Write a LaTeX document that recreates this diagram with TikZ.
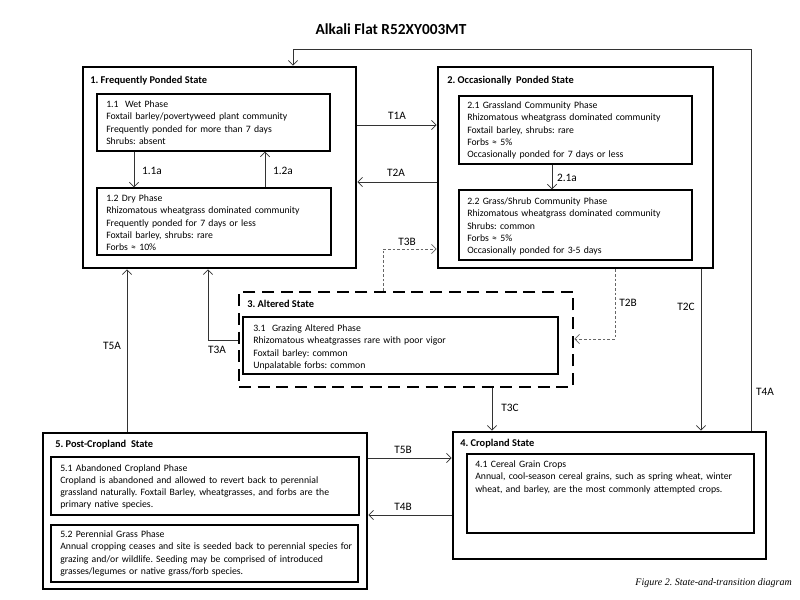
\documentclass[tikz,border=0pt]{standalone}
\usepackage{fontspec}
\setmainfont{Carlito}
\newfontfamily\capfont{Liberation Serif}
\usetikzlibrary{arrows.meta,fit}
\frenchspacing
\begin{document}
\begin{tikzpicture}[x=0.75pt,y=-0.75pt,
  statebox/.style={draw, line width=2pt, inner sep=0pt},
  altbox/.style={draw, line width=2pt, inner sep=0pt, dash pattern=on 9pt off 5pt},
  phasebox/.style={draw, line width=0.9pt, inner sep=0pt},
  phaseboxb/.style={draw, line width=1.6pt, inner sep=0pt},
  stitle/.style={font=\bfseries\fontsize{7.8}{9}\selectfont, anchor=base west, inner sep=0pt},
  ptext/.style={font=\fontsize{7.3}{9.2}\selectfont, anchor=base west, inner sep=0pt, align=left, text width=300pt},
  arr/.style={-{Straight Barb[length=3.5pt,width=7pt]}, line width=0.6pt, draw=black!80},
  darr/.style={arr, draw=black!60, dash pattern=on 2pt off 1.5pt},
  tlab/.style={font=\fontsize{8.5}{10}\selectfont, inner sep=0pt},
]
\useasboundingbox (0,0) rectangle (800,600);

% title
\node[font=\bfseries\fontsize{11.5}{13}\selectfont, inner sep=0pt] (title) at (391,29) {Alkali Flat R52XY003MT};

% state boxes
\node[statebox, fit={(83,67) (356,268)}] (s1) {};
\node[statebox, fit={(438,67) (713,268)}] (s2) {};
\node[altbox, fit={(239,292) (573,387)}] (s3) {};
\node[statebox, fit={(453,432) (766,559)}] (s4) {};
\node[statebox, fit={(43,433) (367,589)}] (s5) {};

\node[stitle] (s1t) at (90,83.5) {1. Frequently Ponded State};
\node[stitle] (s2t) at (447,83.5) {2. Occasionally\ \ Ponded State};
\node[stitle] (s3t) at (247,307.5) {3. Altered State};
\node[stitle] (s4t) at (460,446.5) {4. Cropland State};
\node[stitle] (s5t) at (55,447.5) {5. Post-Cropland\ \ State};

% phase boxes
\node[phasebox, fit={(97,94) (330,151)}] (p11) {};
\node[phasebox, fit={(97,188) (331,255)}] (p12) {};
\node[phasebox, fit={(459,96) (692,164)}] (p21) {};
\node[phasebox, fit={(459,190) (692,260)}] (p22) {};
\node[phasebox, fit={(243,317) (558,374)}] (p31) {};
\node[phaseboxb, fit={(467,454) (754,533)}] (p41) {};
\node[phaseboxb, fit={(51,457) (359,515)}] (p51) {};
\node[phaseboxb, fit={(51,525) (358,582)}] (p52) {};

% phase texts
\node[ptext] (p11t) at (106,107.5) {1.1\ \ Wet Phase\\Foxtail barley/povertyweed plant community\\Frequently ponded for more than 7 days\\Shrubs: absent};
\node[ptext] (p12t) at (106,201.5) {1.2 Dry Phase\\Rhizomatous wheatgrass dominated community\\Frequently ponded for 7 days or less\\Foxtail barley, shrubs: rare\\Forbs ≈ 10\%};
\node[ptext] (p21t) at (467,108.5) {2.1 Grassland Community Phase\\Rhizomatous wheatgrass dominated community\\Foxtail barley, shrubs: rare\\Forbs ≈ 5\%\\Occasionally ponded for 7 days or less};
\node[ptext] (p22t) at (467,204.5) {2.2 Grass/Shrub Community Phase\\Rhizomatous wheatgrass dominated community\\Shrubs: common\\Forbs ≈ 5\%\\Occasionally ponded for 3-5 days};
\node[ptext] (p31t) at (253,331.5) {3.1\ \ Grazing Altered Phase\\Rhizomatous wheatgrasses rare with poor vigor\\Foxtail barley: common\\Unpalatable forbs: common};
\node[ptext] (p41t) at (475,467.5) {4.1 Cereal Grain Crops\\Annual, cool-season cereal grains, such as spring wheat, winter\\wheat, and barley, are the most commonly attempted crops.};
\node[ptext] (p51t) at (60,471) {5.1 Abandoned Cropland Phase\\Cropland is abandoned and allowed to revert back to perennial\\grassland naturally. Foxtail Barley, wheatgrasses, and forbs are the\\primary native species.};
\node[ptext] (p52t) at (60,537.5) {5.2 Perennial Grass Phase\\Annual cropping ceases and site is seeded back to perennial species for\\grazing and/or wildlife. Seeding may be comprised of introduced\\grasses/legumes or native grass/forb species.};

% within-state transitions
\draw[arr] (134,0 |- p11.south) -- (134,0 |- p12.north);
\draw[arr] (265,0 |- p12.north) -- (265,0 |- p11.south);
\draw[arr] (552,0 |- p21.south) -- (552,0 |- p22.north);
\node[tlab] (l11a) at (152,171) {1.1a};
\node[tlab] (l12a) at (283,171) {1.2a};
\node[tlab] (l21a) at (567,178) {2.1a};

% state transitions
\draw[arr] (s1.east |- 0,125) -- (s2.west |- 0,125);
\draw[arr] (s2.west |- 0,182) -- (s1.east |- 0,182);
\draw[darr] (383,0 |- s3.north) -- (383,249) -- (s2.west |- 0,249);
\draw[darr] (615,0 |- s2.south) -- (615,339) -- (s3.east |- 0,339);
\draw[arr] (701,0 |- s2.south) -- (701,0 |- s4.north);
\draw[arr] (751,0 |- s4.north) -- (751,49) -- (293,49) -- (293,0 |- s1.north);
\draw[arr] (492,0 |- s3.south) -- (492,0 |- s4.north);
\draw[arr] (127,0 |- s5.north) -- (127,0 |- s1.south);
\draw[arr] (s3.west |- 0,340) -- (208,340) -- (208,0 |- s1.south);
\draw[arr] (s5.east |- 0,458) -- (s4.west |- 0,458);
\draw[arr] (s4.west |- 0,515) -- (s5.east |- 0,515);

\node[tlab] (lt1a) at (397,116) {T1A};
\node[tlab] (lt2a) at (396,173) {T2A};
\node[tlab] (lt3b) at (407,242) {T3B};
\node[tlab] (lt2b) at (628,303) {T2B};
\node[tlab] (lt2c) at (686,307) {T2C};
\node[tlab] (lt4a) at (765,392) {T4A};
\node[tlab] (lt3c) at (510,408) {T3C};
\node[tlab] (lt5a) at (112,346) {T5A};
\node[tlab] (lt3a) at (217,350) {T3A};
\node[tlab] (lt5b) at (403,450) {T5B};
\node[tlab] (lt4b) at (403,507) {T4B};

% caption
\node[font=\capfont\itshape\fontsize{7.5}{9}\selectfont, anchor=east, inner sep=0pt] (cap) at (792,583) {Figure 2. State-and-transition diagram};
\end{tikzpicture}
\end{document}
